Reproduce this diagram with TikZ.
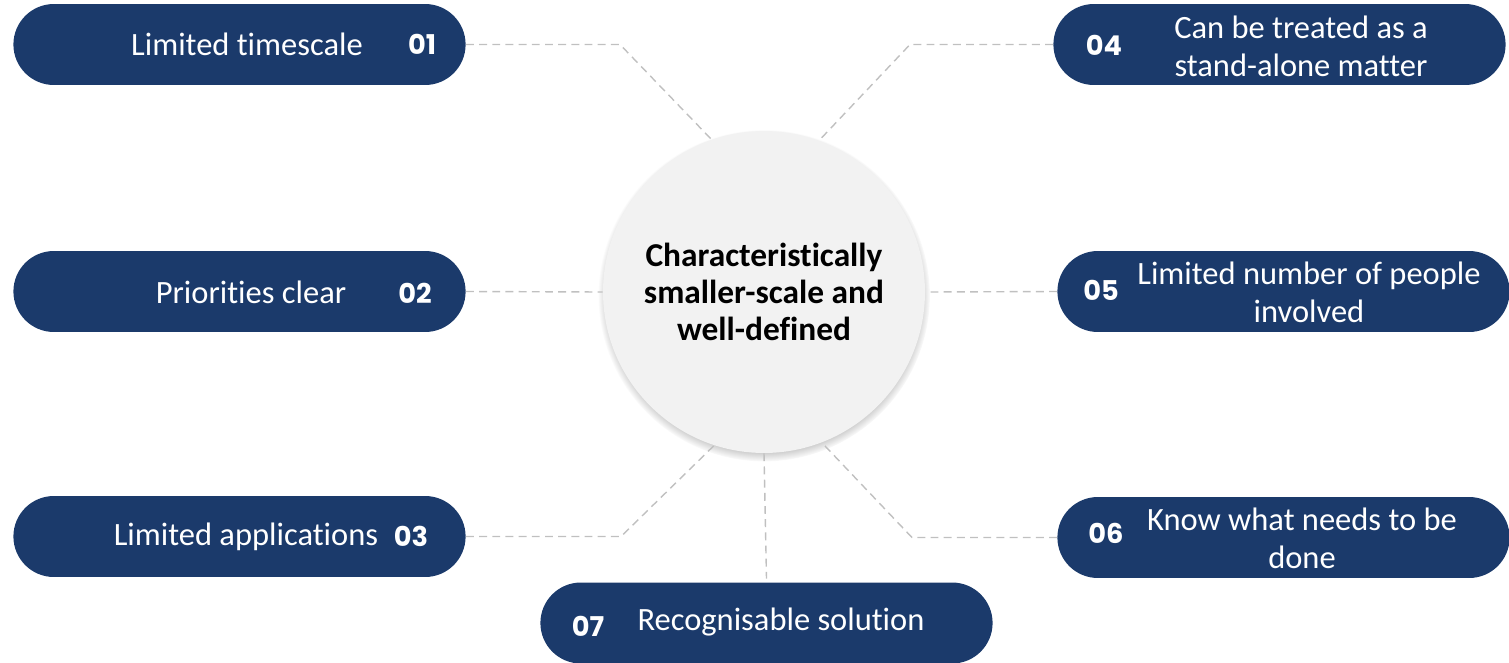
\documentclass[tikz,border=0pt]{standalone}
\usepackage{fontspec}
\setmainfont{Carlito}[Ligatures=NoCommon]
\newfontfamily\numfont{Poppins}
\usetikzlibrary{shapes.misc,shadows}
\definecolor{pillblue}{RGB}{27,58,107}
\definecolor{hubgray}{RGB}{242,242,242}
\definecolor{linkgray}{RGB}{192,192,192}

\begin{document}
\begin{tikzpicture}[
					x=0.02cm,y=-0.02cm,
					pill/.style={rounded rectangle,fill=pillblue,minimum width=9.28cm,minimum height=1.62cm},
					num/.style={text=white,font=\numfont\bfseries\fontsize{15.5}{18}\selectfont},
					lbl/.style={text=white,align=center,font=\fontsize{18.5}{21.5}\selectfont},
					hub/.style={circle,fill=hubgray,minimum size=6.44cm,align=center,
						font=\bfseries\fontsize{19}{21}\selectfont,
						circular drop shadow={shadow scale=1.03,shadow xshift=0pt,shadow yshift=-2pt}},
					link/.style={linkgray,dash pattern=on 4.5pt off 3pt,line width=0.8pt},
					]
					\useasboundingbox (0,0) rectangle (1509,663);
					\node [hub] (hub) at (764,292) {Characteristically\\ smaller-scale and\\ well-defined};
					% left side
					\node [pill] (p1) at (239.5,44.5) {};
					\node [lbl] (t1) at (247,44) {Limited timescale};
					\node [num] (n1) at (422,44) {01};
					\node [pill] (p2) at (239.5,291.5) {};
					\node [lbl] (t2) at (251,292) {Priorities clear};
					\node [num] (n2) at (415,293) {02};
					\node [pill] (p3) at (239.5,536.5) {};
					\node [lbl] (t3) at (246,537) {Limited applications};
					\node [num] (n3) at (411,536) {03};
					% right side
					\node [pill] (p4) at (1279.5,44.5) {};
					\node [lbl] (t4) at (1301,46) {Can be treated as a\\ stand-alone matter};
					\node [num] (n4) at (1104,45) {04};
					\node [pill] (p5) at (1283.5,291.5) {};
					\node [lbl] (t5) at (1309,292) {Limited number of people\\ involved};
					\node [num] (n5) at (1101,290) {05};
					\node [pill] (p6) at (1283.5,537.5) {};
					\node [lbl] (t6) at (1302,538) {Know what needs to be\\ done};
					\node [num] (n6) at (1106,533) {06};
					% bottom
					\node [pill] (p7) at (766.5,623) {};
					\node [lbl] (t7) at (781,622) {Recognisable solution};
					\node [num] (n7) at (588,626) {07};
					% dashed links
					\coordinate (b1) at (620,44.5);
					\coordinate (b3) at (621,536.5);
					\coordinate (b4) at (910,44.5);
					\coordinate (b6) at (912,537.5);
					\draw[link] (p1.east) -- (b1) -- (hub.109);
					\draw[link] (p2.east) -- (hub.west);
					\draw[link] (p3.east) -- (b3) -- (hub.-108);
					\draw[link] (p4.west) -- (b4) -- (hub.70);
					\draw[link] (p5.west) -- (hub.east);
					\draw[link] (p6.west) -- (b6) -- (hub.-69);
					\draw[link] (hub.south) -- ([yshift=2pt]p7.north);
				\end{tikzpicture}
\end{document}
